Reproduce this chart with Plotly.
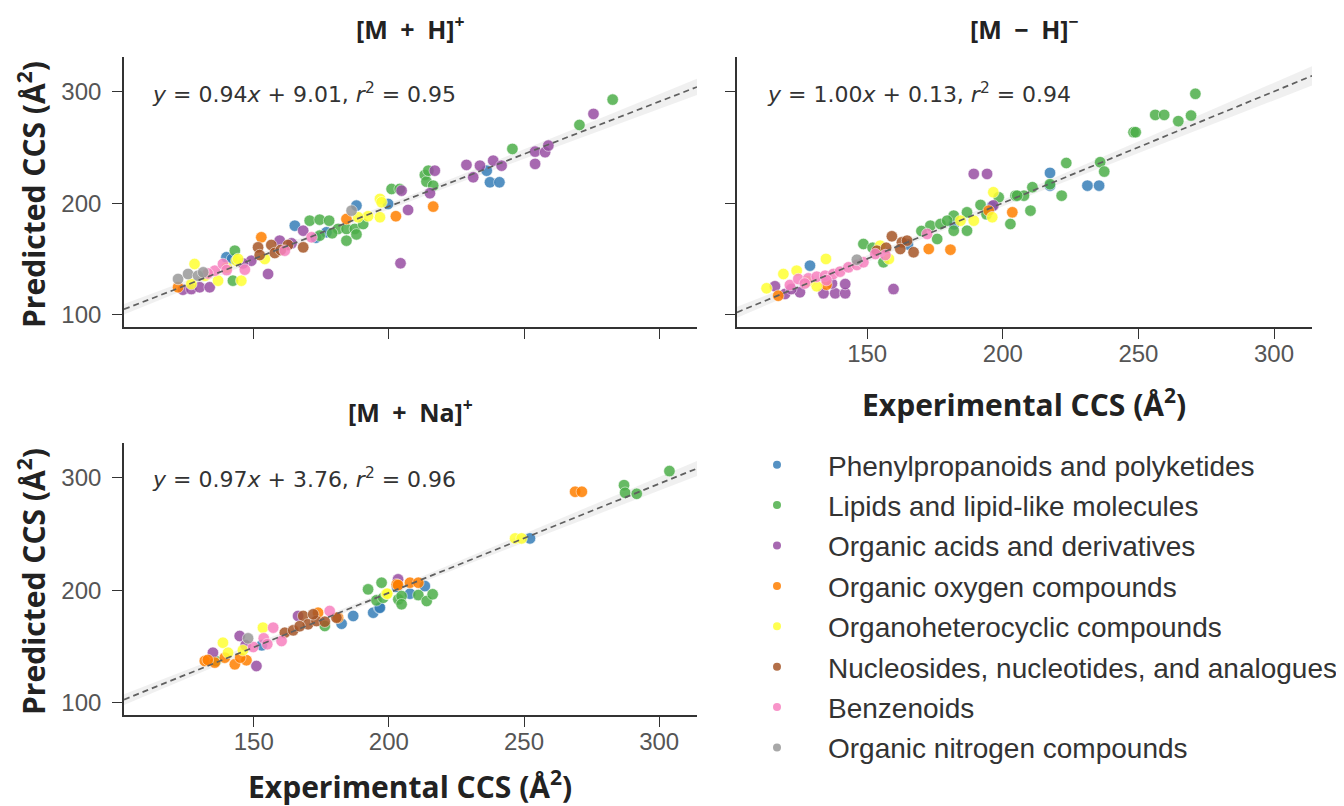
import numpy as np
import plotly.graph_objects as go

CLASSES = ["PP", "LIP", "OA", "OO", "OH", "NUC", "BZ", "ON"]
CLASS_NAMES = [
    "Phenylpropanoids and polyketides",
    "Lipids and lipid-like molecules",
    "Organic acids and derivatives",
    "Organic oxygen compounds",
    "Organoheterocyclic compounds",
    "Nucleosides, nucleotides, and analogues",
    "Benzenoids",
    "Organic nitrogen compounds",
]
CLASS_COLORS = ["#377eb8", "#4daf4a", "#984ea3", "#ff7f00", "#ffff33", "#a65628", "#f781bf", "#999999"]

# ---------------- [M + H]+ ----------------
mhp_class = (["PP"] * 10 + ["LIP"] * 22 + ["OA"] * 25 + ["OO"] * 5 + ["OH"] * 14
             + ["NUC"] * 7 + ["BZ"] * 7 + ["ON"] * 5)
mhp_exp = [
    139.9, 165.2, 176.9, 188.0, 199.7, 236.2, 237.4, 240.9, 173.0, 142.0,
    143.0, 142.3, 170.7, 174.4, 177.9, 181.2, 184.3, 187.4, 190.5, 184.3, 174.4, 201.0, 204.0, 213.3, 213.9,
    216.4, 214.6, 245.7, 270.5, 282.8, 179.0, 188.0,
    123.8, 126.9, 130.0, 133.7, 149.1, 155.3, 159.6, 168.3, 204.3, 204.7, 207.1, 215.2, 217.0, 228.7, 233.7,
    231.2, 238.6, 241.7, 254.1, 257.8, 259.0, 254.1, 275.7, 146.0, 164.0,
    122.0, 152.8, 184.3, 202.6, 216.4,
    128.1, 126.9, 136.8, 143.6, 145.4, 144.2, 154.1, 196.7, 196.7, 192.3, 188.6, 197.3, 132.0, 140.0,
    151.6, 152.2, 156.5, 157.8, 162.7, 168.3, 160.0,
    135.6, 138.6, 146.7, 161.5, 171.4, 133.0, 140.0,
    122.0, 125.7, 129.4, 131.3, 186.2,
]
mhp_pred = [
    151.5, 179.8, 173.9, 197.8, 199.3, 229.1, 218.7, 218.7, 169.0, 150.0,
    157.4, 130.5, 184.3, 185.2, 184.3, 176.9, 176.9, 176.9, 181.3, 166.4, 170.9, 212.7, 212.7, 225.3, 219.3,
    215.7, 229.1, 248.6, 270.1, 292.8, 173.0, 172.0,
    122.4, 123.0, 124.6, 124.6, 148.4, 136.5, 166.4, 175.3, 146.1, 211.2, 193.9, 208.9, 229.1, 234.3, 233.6,
    223.2, 238.1, 233.6, 246.2, 245.7, 251.6, 235.2, 280.0, 146.0, 164.0,
    124.6, 169.4, 185.8, 188.3, 196.9,
    145.5, 127.5, 130.5, 148.4, 130.5, 150.0, 150.0, 203.8, 187.4, 188.3, 187.4, 200.8, 135.0, 142.0,
    160.4, 153.5, 162.5, 155.3, 162.5, 160.4, 158.0,
    139.5, 145.5, 140.4, 157.4, 169.4, 137.0, 140.0,
    132.0, 136.5, 135.0, 138.0, 193.3,
]

# ---------------- [M - H]- ----------------
mhm_class = (["PP"] * 8 + ["LIP"] * 33 + ["OA"] * 13 + ["OO"] * 6 + ["OH"] * 12
             + ["NUC"] * 7 + ["BZ"] * 15 + ["ON"] * 1)
mhm_exp = [
    128.9, 217.4, 217.4, 231.2, 235.5, 182.0, 165.0, 196.0,
    148.6, 156.0, 173.3, 177.0, 181.9, 186.8, 191.8, 198.5, 204.7, 202.8, 175.8, 181.9, 186.8, 179.5, 210.2,
    207.8, 210.9, 205.3, 217.4, 221.7, 223.4, 235.9, 237.4, 248.2, 249.0, 256.2, 259.5, 264.7, 269.4, 271.0,
    152.0, 170.0, 194.0,
    116.0, 119.7, 125.2, 133.9, 138.2, 141.9, 141.9, 159.7, 189.3, 194.2, 196.5, 122.0, 137.0,
    117.2, 172.7, 180.7, 194.8, 203.5, 135.0,
    112.9, 119.1, 124.0, 131.4, 134.8, 154.8, 184.4, 189.3, 196.1, 196.5, 128.0, 158.0,
    159.1, 162.8, 164.7, 167.1, 153.6, 162.2, 157.0,
    121.5, 124.6, 128.3, 131.4, 134.5, 137.5, 140.0, 143.1, 146.2, 148.6, 153.0, 156.7, 172.1, 127.0, 135.0,
    146.2,
]
mhm_pred = [
    144.0, 227.1, 215.7, 215.7, 215.7, 181.0, 163.0, 197.0,
    163.4, 147.0, 179.8, 181.3, 188.8, 191.8, 198.4, 205.3, 206.7, 181.3, 167.9, 175.3, 175.3, 184.3, 193.3,
    206.7, 214.3, 206.7, 217.0, 206.7, 236.0, 236.7, 228.3, 263.6, 263.6, 279.1, 279.1, 273.5, 278.5, 298.0,
    160.0, 175.0, 190.0,
    125.5, 118.6, 120.1, 119.2, 119.2, 119.2, 127.5, 123.0, 226.2, 226.2, 198.0, 123.0, 128.0,
    117.0, 158.9, 158.3, 193.3, 191.8, 127.0,
    123.7, 136.5, 139.5, 125.5, 150.0, 161.9, 184.3, 184.3, 187.4, 209.8, 130.0, 150.0,
    170.3, 164.9, 166.4, 156.0, 157.4, 158.9, 160.0,
    126.6, 132.0, 132.6, 134.1, 135.0, 136.5, 138.6, 142.5, 144.6, 147.0, 154.4, 153.5, 172.4, 128.0, 131.0,
    149.3,
]

# ---------------- [M + Na]+ ----------------
mna_class = (["PP"] * 10 + ["LIP"] * 16 + ["OA"] * 6 + ["OO"] * 15 + ["OH"] * 8
             + ["NUC"] * 9 + ["BZ"] * 6 + ["ON"] * 1)
mna_exp = [
    182.5, 186.8, 194.2, 196.4, 213.3, 207.8, 196.7, 252.2, 153.0, 203.0,
    176.3, 192.3, 197.3, 195.4, 203.5, 197.9, 204.7, 204.7, 210.9, 214.0, 216.2, 287.0, 287.4, 291.7, 303.8, 136.0,
    134.9, 151.0, 144.8, 166.4, 203.4, 147.0,
    131.9, 135.6, 143.0, 147.3, 139.3, 173.8, 181.2, 202.9, 203.4, 207.8, 210.9, 268.9, 271.4, 133.0, 145.0,
    138.6, 140.5, 146.0, 153.4, 199.1, 199.4, 246.7, 249.1,
    161.5, 164.6, 168.3, 170.1, 173.2, 176.3, 180.6, 172.0, 167.0,
    149.8, 153.7, 157.2, 160.3, 178.1, 155.0,
    147.9,
]
mna_pred = [
    170.2, 177.1, 180.0, 184.4, 203.7, 196.9, 184.4, 246.1, 151.0, 203.0,
    168.2, 200.8, 206.7, 191.0, 191.9, 193.3, 194.8, 187.5, 195.7, 190.4, 196.4, 293.5, 286.7, 285.8, 306.0, 137.0,
    144.4, 132.6, 159.3, 177.1, 209.7, 151.0,
    137.1, 135.6, 134.1, 137.7, 140.0, 180.0, 175.6, 205.2, 204.6, 206.7, 206.7, 287.6, 287.6, 138.0, 140.0,
    153.3, 144.4, 146.6, 166.7, 196.9, 196.9, 246.1, 246.1,
    162.2, 164.3, 177.1, 169.7, 172.6, 172.0, 175.6, 178.6, 168.0,
    149.5, 157.2, 166.7, 154.8, 181.5, 152.0,
    157.2,
]

# Regression fits (slope, intercept, r2) as printed on the chart
mhp_fit = (0.94, 9.01, 0.95)
mhm_fit = (1.00, 0.13, 0.94)
mna_fit = (0.97, 3.76, 0.96)

X_RANGE = [102, 314]
Y_RANGE = [89, 331]
X_TICKS = [150, 200, 250, 300]
Y_TICKS = [100, 200, 300]

# ---------------------------------------------------------------
# the page body has an 8 px margin, so the figure starts at (8, 8)
OFF = 8
W, H = 1344 - OFF, 806 - OFF
px_x = lambda p: (p - OFF) / W
px_y = lambda p: 1 - (p - OFF) / H

DOM_L = [px_x(124), px_x(697)]
DOM_R = [px_x(737), px_x(1312)]
DOM_T = [px_y(327), px_y(57)]
DOM_B = [px_y(715), px_y(443)]

fig = go.Figure()

panels = [
    ("x", "y", mhp_exp, mhp_pred, mhp_class, mhp_fit),
    ("x2", "y2", mhm_exp, mhm_pred, mhm_class, mhm_fit),
    ("x3", "y3", mna_exp, mna_pred, mna_class, mna_fit),
]

for xa, ya, ex, pr, cl, fit in panels:
    ex = np.asarray(ex, float)
    pr = np.asarray(pr, float)
    cl = np.asarray(cl)
    slope, icpt, _ = fit
    xl = np.linspace(X_RANGE[0], X_RANGE[1], 120)
    yl = slope * xl + icpt
    # 95% confidence band of the fitted line, from the plotted points
    n = len(ex)
    resid = pr - (slope * ex + icpt)
    s = np.sqrt(np.sum(resid ** 2) / (n - 2))
    xm = ex.mean()
    sxx = np.sum((ex - xm) ** 2)
    half = 1.96 * s * np.sqrt(1.0 / n + (xl - xm) ** 2 / sxx)
    fig.add_trace(go.Scatter(
        x=np.concatenate([xl, xl[::-1]]), y=np.concatenate([yl + half, (yl - half)[::-1]]),
        fill="toself", fillcolor="rgba(200,200,200,0.28)", line=dict(width=0),
        mode="lines", hoverinfo="skip", showlegend=False, xaxis=xa, yaxis=ya))
    for code, color in zip(CLASSES, CLASS_COLORS):
        m = cl == code
        if not m.any():
            continue
        fig.add_trace(go.Scatter(
            x=ex[m], y=pr[m], mode="markers",
            marker=dict(size=11.5, color=color, opacity=0.85, line=dict(width=0.6, color="white")),
            showlegend=False, xaxis=xa, yaxis=ya))
    fig.add_trace(go.Scatter(
        x=xl, y=yl, mode="lines", line=dict(color="#606060", width=1.7, dash="6px,4px"),
        hoverinfo="skip", showlegend=False, xaxis=xa, yaxis=ya))

# legend entries
for name, color in zip(CLASS_NAMES, CLASS_COLORS):
    fig.add_trace(go.Scatter(
        x=[None], y=[None], mode="markers", name=name, legendgroup=name,
        marker=dict(size=8, color=color, opacity=0.85), xaxis="x", yaxis="y"))

tickfont = dict(family="Liberation Sans, Arial, sans-serif", size=24, color="#555555")
axis_common = dict(
    showgrid=False, zeroline=False, showline=True, linecolor="#333333", linewidth=1.6,
    ticks="outside", ticklen=10, tickwidth=1.4, tickcolor="#333333", tickfont=tickfont,
)
xax = dict(range=X_RANGE, tickvals=X_TICKS, ticklabelstandoff=-6, **axis_common)
yax = dict(range=Y_RANGE, tickvals=Y_TICKS, ticklabelstandoff=6, **axis_common)

fig.update_layout(
    width=W, height=H, margin=dict(l=0, r=0, t=0, b=0),
    paper_bgcolor="white", plot_bgcolor="white",
    xaxis=dict(domain=DOM_L, anchor="y", showticklabels=False, **xax),
    yaxis=dict(domain=DOM_T, anchor="x", **yax),
    xaxis2=dict(domain=DOM_R, anchor="y2", **xax),
    yaxis2=dict(domain=DOM_T, anchor="x2", showticklabels=False, **yax),
    xaxis3=dict(domain=DOM_L, anchor="y3", **xax),
    yaxis3=dict(domain=DOM_B, anchor="x3", **yax),
    legend=dict(
        x=px_x(726), y=px_y(440), xanchor="left", yanchor="top",
        font=dict(family="Liberation Sans, Arial, sans-serif", size=28, color="#333333"),
        itemwidth=92, tracegroupgap=1, bgcolor="rgba(0,0,0,0)",
    ),
    showlegend=True,
)

title_font = dict(family="Open Sans, sans-serif", size=25, color="#222222")
label_font = dict(family="Open Sans, sans-serif", size=30, color="#222222")
eq_font = dict(family="DejaVu Sans, sans-serif", size=22, color="#333333")
SP = "\u2002"

annotations = [
    dict(text=f"<b>[M{SP}+{SP}H]</b><sup><b>+</b></sup>", x=px_x(410), y=px_y(27), font=title_font),
    dict(text=f"<b>[M{SP}−{SP}H]</b><sup><b>−</b></sup>", x=px_x(1024), y=px_y(27), font=title_font),
    dict(text=f"<b>[M{SP}+{SP}Na]</b><sup><b>+</b></sup>", x=px_x(410), y=px_y(410), font=title_font),
    dict(text="<b>Predicted CCS (Å<sup>2</sup>)</b>", x=px_x(32), y=px_y(195), textangle=-90, font=label_font),
    dict(text="<b>Predicted CCS (Å<sup>2</sup>)</b>", x=px_x(32), y=px_y(582), textangle=-90, font=label_font),
    dict(text="<b>Experimental CCS (Å<sup>2</sup>)</b>", x=px_x(1024), y=px_y(403), font=label_font),
    dict(text="<b>Experimental CCS (Å<sup>2</sup>)</b>", x=px_x(410), y=px_y(785), font=label_font),
]
for (xa, ya, *_r, fit), (ax, ay) in zip(panels, [(150, 93), (765, 93), (150, 478)]):
    slope, icpt, r2 = fit
    annotations.append(dict(
        text=(f"<i>y</i> = {slope:.2f}<i>x</i> + {icpt:.2f}, "
              f"<i>r</i><sup>2</sup> = {r2:.2f}"),
        x=px_x(ax), y=px_y(ay), xanchor="left", font=eq_font))

for a in annotations:
    a.setdefault("xanchor", "center")
    a.update(xref="paper", yref="paper", yanchor="middle", showarrow=False)
fig.update_layout(annotations=annotations)

fig.write_html("out.html")
